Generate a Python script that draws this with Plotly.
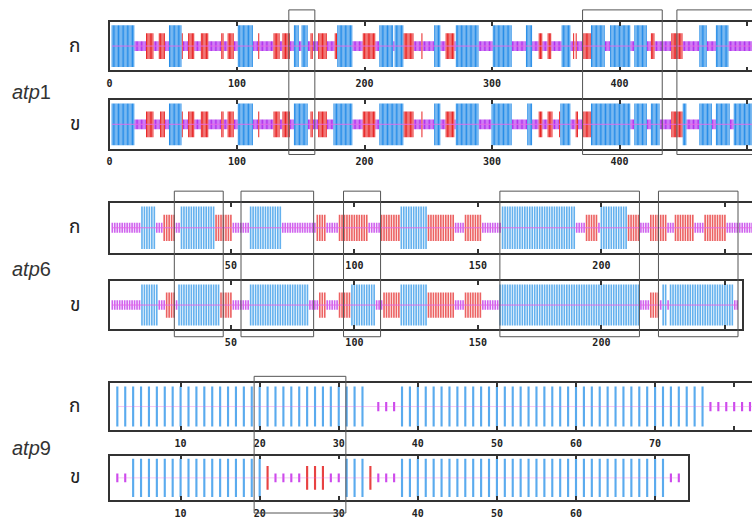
import plotly.graph_objects as go

# ---------------- data: secondary-structure segments (state, first residue, last residue)
# H = helix, E = strand, C = coil
atp1_A = [("H",2,19),("C",20,28),("E",29,34),("C",35,38),("E",39,43),("C",44,46),("H",47,56),("E",57,57),
          ("C",58,61),("E",62,66),("C",67,71),("E",72,77),("C",78,87),("E",88,89),("C",90,92),("E",93,97),
          ("C",98,100),("H",101,112),("C",113,116),("E",117,117),("C",118,128),("E",129,133),("C",134,135),
          ("E",136,141),("C",142,144),("H",145,148),("C",149,150),("H",151,155),("C",156,157),("E",158,159),
          ("C",160,163),("E",164,170),("C",171,176),("E",177,178),("H",179,190),("C",191,198),("E",199,208),
          ("C",209,211),("H",212,222),("C",223,223),("H",224,230),("E",231,238),("C",239,244),("E",245,245),
          ("C",246,254),("H",255,259),("C",260,263),("E",264,270),("C",271,271),("H",272,289),("C",290,300),
          ("H",301,315),("C",316,326),("H",327,331),("C",332,336),("E",337,339),("C",340,343),("E",344,346),
          ("C",347,354),("H",355,361),("C",362,363),("E",364,364),("C",365,365),("E",366,366),("C",367,371),
          ("E",372,377),("H",378,388),("C",389,392),("H",393,408),("C",409,411),("H",412,421),("C",422,424),
          ("E",425,427),("C",428,440),("E",441,449),("C",450,462),("H",463,468),("C",469,475),("H",476,485),
          ("C",486,510)]
atp1_B = [("H",2,19),("C",20,28),("E",29,34),("C",35,39),("E",40,43),("C",44,46),("H",47,56),("E",57,57),
          ("C",58,61),("E",62,66),("C",67,71),("E",72,77),("C",78,87),("E",88,89),("C",90,92),("E",93,97),
          ("C",98,100),("H",101,112),("C",113,116),("E",117,117),("C",118,128),("E",129,133),("C",134,135),
          ("E",136,141),("C",142,144),("H",145,155),("C",156,157),("E",158,159),("C",160,163),("E",164,170),
          ("C",171,175),("H",176,190),("C",191,198),("E",199,208),("C",209,211),("H",212,230),("E",231,238),
          ("C",239,244),("E",245,245),("C",246,254),("H",255,259),("C",260,263),("E",264,270),("C",271,271),
          ("H",272,289),("C",290,299),("H",300,315),("C",316,327),("H",328,331),("C",332,336),("E",337,339),
          ("C",340,343),("E",344,347),("C",348,352),("E",353,353),("H",354,361),("C",362,365),("E",366,367),
          ("C",368,370),("E",371,377),("H",378,408),("C",409,411),("H",412,421),("C",422,424),("H",425,431),
          ("C",432,440),("E",441,449),("H",450,452),("C",453,462),("H",463,472),("C",473,475),("H",476,486),
          ("C",487,489),("H",490,510)]
atp6_A = [("C",2,13),("H",14,19),("C",20,22),("E",23,27),("C",28,29),("H",30,43),("E",44,50),("C",51,57),
          ("H",58,70),("C",71,84),("E",85,88),("C",89,93),("E",94,105),("C",106,110),("E",111,118),("H",119,129),
          ("E",130,140),("C",141,144),("E",145,151),("C",152,159),("H",160,189),("C",190,193),("E",194,198),
          ("C",199,199),("H",200,210),("E",211,215),("C",216,219),("E",220,226),("C",227,229),("E",230,237),
          ("C",238,241),("E",242,250),("C",251,262)]
atp6_B = [("C",2,13),("H",14,20),("C",21,23),("E",24,27),("C",28,28),("H",29,45),("E",46,50),("C",51,57),
          ("H",58,81),("C",82,85),("E",86,88),("C",89,93),("E",94,98),("H",99,108),("C",109,111),("E",112,118),
          ("H",119,129),("E",130,140),("C",141,144),("E",145,151),("C",152,158),("H",159,215),("C",216,219),
          ("E",220,223),("C",224,224),("H",225,226),("C",227,227),("H",228,253),("C",254,255)]
atp9_A = [("H",2,33),("C",35,37),("H",38,76),("C",77,84)]
atp9_B = [("C",2,3),("H",4,20),("E",21,21),("C",22,25),("E",26,28),("C",29,30),("H",31,33),("E",34,34),
          ("C",35,37),("H",38,71),("C",72,73)]

# highlighted regions (residue ranges) spanning both variants
atp1_regions = [(140.6, 161.0), (371.0, 433.5), (445.0, 560.0)]
atp6_regions = [(27.1, 46.9), (54.1, 83.5), (95.6, 110.6), (158.9, 215.4), (223.1, 255.3)]
atp9_regions = [(19.3, 30.9)]

# tick values / labels
atp1_ticks = [0, 100, 200, 300, 400, 500]
atp1_ticklabels = ["0", "100", "200", "300", "400", ""]
atp6_ticks = [50, 100, 150, 200, 250]
atp6_ticklabels = ["50", "100", "150", "200", ""]
atp9A_ticks = [10, 20, 30, 40, 50, 60, 70, 80]
atp9A_ticklabels = ["10", "20", "30", "40", "50", "60", "70", ""]
atp9B_ticks = [10, 20, 30, 40, 50, 60, 70]
atp9B_ticklabels = ["10", "20", "30", "40", "50", "60", ""]

gene_names = ["atp1", "atp6", "atp9"]
variant_names = ["ก", "ข"]

# ---------------- layout / style
W, H = 752, 519
HALF = {"H": 0.86, "E": 0.53, "C": 0.2}
PAL = {
    "atp1": {"H": "rgba(36,140,232,0.99)", "E": "rgba(232,34,34,0.99)", "C": "rgba(176,46,238,0.99)"},
    "atp6": {"H": "rgba(98,176,238,0.99)", "E": "rgba(236,96,96,0.99)", "C": "rgba(206,98,238,0.99)"},
    "atp9": {"H": "rgba(88,170,238,0.99)", "E": "rgba(232,64,64,0.99)", "C": "rgba(204,72,236,0.99)"},
}
SCALE = {"atp1": (107.0, 1.28), "atp6": (104.8, 2.48), "atp9": (98.9, 7.94)}  # px of residue 0, px per residue
BARW = {"atp1": 0.8, "atp6": 0.66, "atp9": 0.27}
LEFT = 107.0

tracks = [
    dict(seg=atp1_A, gene="atp1", top=22, bot=71, right=760, tv=atp1_ticks, tt=atp1_ticklabels),
    dict(seg=atp1_B, gene="atp1", top=101, bot=150, right=760, tv=atp1_ticks, tt=atp1_ticklabels),
    dict(seg=atp6_A, gene="atp6", top=205, bot=255, right=760, tv=atp6_ticks, tt=atp6_ticklabels),
    dict(seg=atp6_B, gene="atp6", top=284, bot=332, right=742, tv=atp6_ticks, tt=atp6_ticklabels),
    dict(seg=atp9_A, gene="atp9", top=387, bot=434, right=760, tv=atp9A_ticks, tt=atp9A_ticklabels),
    dict(seg=atp9_B, gene="atp9", top=460, bot=505, right=687.7, tv=atp9B_ticks, tt=atp9B_ticklabels),
]

fig = go.Figure()
layout = dict(width=W, height=H, margin=dict(l=0, r=0, t=0, b=0), paper_bgcolor="white",
              plot_bgcolor="white", showlegend=False, barmode="overlay")
shapes = []
annotations = []
tickfont = dict(family="DejaVu Sans Mono", size=10, color="#222", weight="bold")

for i, tr in enumerate(tracks, start=1):
    sfx = "" if i == 1 else str(i)
    g = tr["gene"]
    o, p = SCALE[g]
    cut = tr["right"] > W          # track continues past the picture edge
    right_px = min(tr["right"], W)
    r0 = (LEFT - o) / p
    r1 = (right_px - o) / p
    xdom = [LEFT / W, right_px / W]
    ydom = [1 - tr["bot"] / H, 1 - tr["top"] / H]
    for st in ["C", "E", "H"]:
        xs = [r for s, a, b in tr["seg"] if s == st for r in range(a, b + 1)]
        if not xs:
            continue
        h = HALF[st]
        fig.add_trace(go.Bar(x=xs, y=[2 * h] * len(xs), base=[-h] * len(xs), width=BARW[g],
                             marker=dict(color=PAL[g][st], line=dict(width=0)),
                             xaxis="x" + sfx, yaxis="y" + sfx, hoverinfo="skip"))
    first = min(a for s, a, b in tr["seg"])
    last = max(b for s, a, b in tr["seg"])
    fig.add_trace(go.Scatter(x=[first, last], y=[0, 0], mode="lines",
                             line=dict(color="#e868e8", width=1),
                             opacity=0.35 if g == "atp9" else 0.9,
                             xaxis="x" + sfx, yaxis="y" + sfx, hoverinfo="skip"))
    layout["xaxis" + sfx] = dict(domain=xdom, range=[r0, r1], anchor="y" + sfx,
                                 showline=True, linecolor="#333", linewidth=1.5, mirror="ticks",
                                 ticks="inside", ticklen=4, tickwidth=1.5, tickcolor="#333",
                                 tickvals=tr["tv"], ticktext=tr["tt"], tickfont=tickfont,
                                 ticklabelstandoff=3, showgrid=False, zeroline=False, fixedrange=True)
    layout["yaxis" + sfx] = dict(domain=ydom, range=[-1, 1], anchor="x" + sfx,
                                 showline=True, linecolor="#333", linewidth=1.5, mirror=not cut,
                                 ticks="", showticklabels=False, showgrid=False, zeroline=False,
                                 fixedrange=True)
    # variant label
    annotations.append(dict(text=variant_names[(i - 1) % 2], x=72 / W, y=1 - (tr["top"] + tr["bot"]) / 2 / H,
                            xref="paper", yref="paper", xanchor="center", yanchor="middle", showarrow=False,
                            font=dict(family="Noto Sans Thai, Loma, Noto Sans, DejaVu Sans, sans-serif",
                                      size=19, color="#222")))

# gene labels
gene_y = [93, 272, 452]
for name, gy in zip(gene_names, gene_y):
    annotations.append(dict(text="<i>" + name[:3] + "</i>" + name[3:], x=7 / W, y=1 - gy / H,
                            xref="paper", yref="paper", xanchor="left", yanchor="middle", showarrow=False,
                            font=dict(family="Liberation Sans", size=20, color="#333")))

# highlight boxes
for regions, xr, top, bot in [(atp1_regions, "x", 10, 156), (atp6_regions, "x3", 193, 340),
                              (atp9_regions, "x5", 380, 518)]:
    for a, b in regions:
        shapes.append(dict(type="rect", xref=xr, yref="paper", x0=a, x1=b, y0=1 - bot / H, y1=1 - top / H,
                           line=dict(color="#555", width=1), fillcolor="rgba(0,0,0,0)", layer="above"))

layout["shapes"] = shapes
layout["annotations"] = annotations
fig.update_layout(**layout)
fig.write_html("out.html", config={"displayModeBar": False},
               post_script="document.body.style.margin='0';document.body.style.overflow='hidden';")
